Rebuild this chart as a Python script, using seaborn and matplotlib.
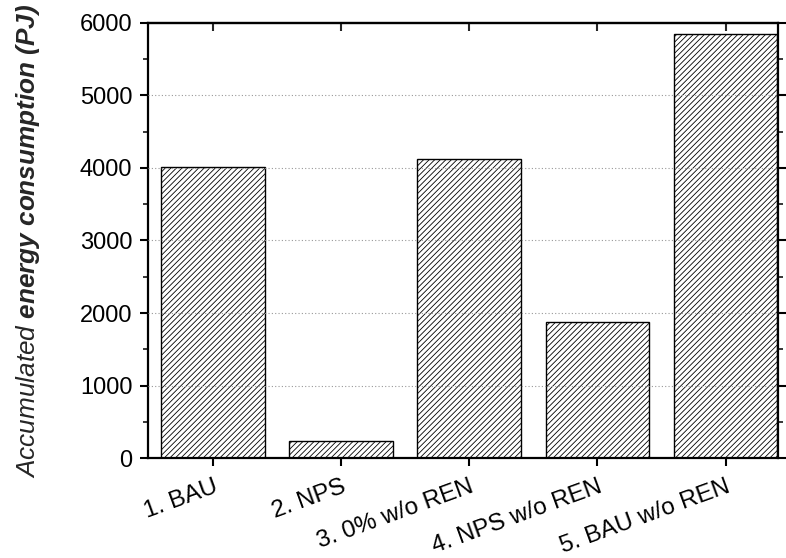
"""
Accumulated energy consumption per scenario, hatched bar chart.
"""

import matplotlib

matplotlib.use("Agg")

import matplotlib.pyplot as plt
import pandas as pd
import seaborn as sns
from matplotlib.ticker import MultipleLocator

# Data
scenarios = ["1. BAU", "2. NPS", "3. 0% w/o REN", "4. NPS w/o REN", "5. BAU w/o REN"]
energy_pj = [4020, 240, 4130, 1870, 5850]

y_ticks = [0, 1000, 2000, 3000, 4000, 5000, 6000]

sns.set_style("ticks")
plt.rcParams["font.family"] = ["Liberation Sans", "DejaVu Sans"]
plt.rcParams["mathtext.fontset"] = "custom"
plt.rcParams["mathtext.it"] = "Liberation Sans:italic"
plt.rcParams["mathtext.bf"] = "Liberation Sans:bold:italic"
plt.rcParams["mathtext.rm"] = "Liberation Sans"
plt.rcParams["hatch.linewidth"] = 0.6
plt.rcParams["hatch.color"] = "#6e6e6e"

df = pd.DataFrame({"scenario": scenarios, "energy": energy_pj})

fig = plt.figure(figsize=(7.86, 5.58), dpi=100)
ax = fig.add_axes([0.188, 0.179, 0.802, 0.780])

sns.barplot(
    data=df,
    x="scenario",
    y="energy",
    color="white",
    saturation=1,
    width=0.81,
    edgecolor="black",
    linewidth=1.0,
    hatch="//////",
    ax=ax,
)

ax.set_xlim(-0.51, 4.41)
ax.set_ylim(0, 6000)
ax.set_yticks(y_ticks)
ax.yaxis.set_minor_locator(MultipleLocator(500))

# Dotted grid over the bars, only between the spines
for v in y_ticks[1:-1]:
    ax.axhline(v, color="#999999", linestyle=(0, (1, 2)), linewidth=0.8, zorder=5)

for side in ["left", "right", "top", "bottom"]:
    ax.spines[side].set_visible(True)
    ax.spines[side].set_linewidth(1.6)
    ax.spines[side].set_color("black")

ax.tick_params(axis="both", which="major", direction="out", length=6, width=1.5,
               colors="black")
ax.tick_params(axis="y", labelsize=17, pad=5)
ax.tick_params(axis="x", labelsize=17.5, pad=7)
ax.tick_params(axis="y", which="minor", direction="out", length=3.5, width=1.3)
ax.tick_params(axis="y", which="both", right=True)

plt.setp(ax.get_xticklabels(), rotation=20, ha="right", rotation_mode="anchor")

# Top ticks point inward
top = ax.secondary_xaxis("top")
top.set_xticks(range(len(scenarios)))
top.set_xticklabels([])
top.tick_params(direction="in", length=6, width=1.5)
top.spines["top"].set_linewidth(1.6)

ax.set_xlabel("")
ax.set_ylabel(r"$\mathit{Accumulated}\ \mathbf{energy\ consumption\ (PJ)}$", fontsize=18.8)
ax.yaxis.set_label_coords(-0.168, 0.5)

fig.savefig("out.png", dpi=100)
plt.close(fig)
